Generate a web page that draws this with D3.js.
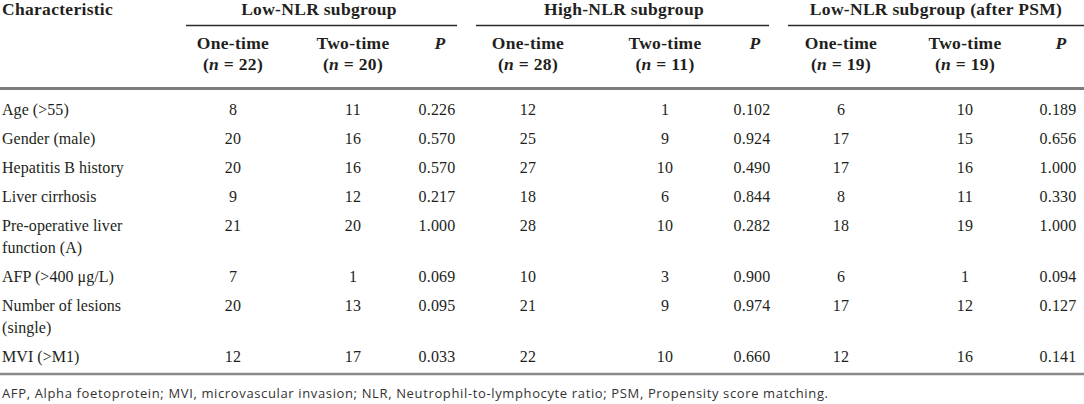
<!DOCTYPE html>
<html><head><meta charset="utf-8">
<script src="https://cdn.jsdelivr.net/npm/d3@7"></script>
<style>
html,body{margin:0;padding:0;background:#fff;}
svg{display:block;}
</style></head>
<body>
<svg id="t" width="1084" height="404"></svg>
<script>
// ---- data ----
const characteristics = [["Age (>55)"],["Gender (male)"],["Hepatitis B history"],["Liver cirrhosis"],["Pre-operative liver","function (A)"],["AFP (>400 μg/L)"],["Number of lesions","(single)"],["MVI (>M1)"]];
const groups = ["Low-NLR subgroup","High-NLR subgroup","Low-NLR subgroup (after PSM)"];
const subLabels = ["One-time","Two-time"];
const groupN = [[22,20],[28,11],[19,19]];
const lowOne = [8,20,20,9,21,7,20,12];
const lowTwo = [11,16,16,12,20,1,13,17];
const lowP = ["0.226","0.570","0.570","0.217","1.000","0.069","0.095","0.033"];
const highOne = [12,25,27,18,28,10,21,22];
const highTwo = [1,9,10,6,10,3,9,10];
const highP = ["0.102","0.924","0.490","0.844","0.282","0.900","0.974","0.660"];
const psmOne = [6,17,17,8,18,6,17,12];
const psmTwo = [10,15,16,11,19,1,12,16];
const psmP = ["0.189","0.656","1.000","0.330","1.000","0.094","0.127","0.141"];
const footnote = "AFP, Alpha foetoprotein; MVI, microvascular invasion; NLR, Neutrophil-to-lymphocyte ratio; PSM, Propensity score matching.";

const series = [lowOne, lowTwo, lowP, highOne, highTwo, highP, psmOne, psmTwo, psmP];

// ---- layout ----
const svg = d3.select("#t");
const serif = "'Liberation Serif', 'Times New Roman', serif";
const ink = "#231f20";
const colX = [233, 353, 437, 528, 665, 752, 841, 965, 1058];
const groupSpan = [[186,457],[476,769],[788,1084]];
const titleX = [319, 624, 936];
const x = d3.scaleOrdinal().domain(d3.range(series.length)).range(colX);

const lineH = 22, rowPitch = 29, firstRow = 115;
const rowTops = [];
let acc = 0;
characteristics.forEach(c => { rowTops.push(acc); acc += rowPitch + lineH*(c.length-1); });
const y = d3.scaleLinear().domain([0,1]).range([firstRow, firstRow+1]);

const fs = 16, hfs = 17.5;
function head(sel){ return sel.attr("font-family",serif).attr("font-weight","bold")
  .attr("font-size",hfs).attr("letter-spacing",0.3).attr("fill",ink); }

// header
head(svg.append("text").attr("x",2).attr("y",15)).text("Characteristic");

groups.forEach((g,i)=>{
  const [a,b] = groupSpan[i];
  head(svg.append("text").attr("x",titleX[i]).attr("y",15).attr("text-anchor","middle")).text(g);
  svg.append("line").attr("x1",a).attr("x2",b).attr("y1",25.5).attr("y2",25.5)
    .attr("stroke","#2a2a2a").attr("stroke-width",1.4);
  subLabels.forEach((lab,j)=>{
    const cx = x(i*3+j);
    head(svg.append("text").attr("x",cx).attr("y",48.5).attr("text-anchor","middle")).text(lab);
    const t = head(svg.append("text").attr("x",cx).attr("y",70).attr("text-anchor","middle"));
    t.append("tspan").text("(");
    t.append("tspan").attr("font-style","italic").text("n");
    t.append("tspan").text(" = " + groupN[i][j] + ")");
  });
  head(svg.append("text").attr("x",x(i*3+2)+3).attr("y",48.5).attr("text-anchor","middle"))
    .attr("font-style","italic").text("P");
});

// header rule
svg.append("line").attr("x1",0).attr("x2",1084).attr("y1",88.5).attr("y2",88.5).attr("stroke","#7d7d7d").attr("stroke-width",3);

// rows
const rows = svg.append("g").selectAll("g").data(characteristics).join("g")
  .attr("transform",(d,i)=>`translate(0,${y(rowTops[i])})`);
rows.each(function(d,i){
  const g = d3.select(this);
  d.forEach((ln,k)=>{
    g.append("text").attr("x",2).attr("y",k*lineH).attr("font-family",serif)
      .attr("font-size",fs).attr("letter-spacing",0.05).attr("fill",ink).text(ln);
  });
  series.forEach((s,j)=>{
    g.append("text").attr("x",x(j)).attr("y",0).attr("text-anchor","middle").attr("font-family",serif)
      .attr("font-size",fs).attr("letter-spacing",0.2).attr("fill",ink).text(s[i]);
  });
});

// bottom rule
svg.append("line").attr("x1",0).attr("x2",1084).attr("y1",374).attr("y2",374).attr("stroke","#8a8a8a").attr("stroke-width",2.5);

// footnote
svg.append("text").attr("x",2).attr("y",398).attr("font-family","'Open Sans', 'DejaVu Sans', sans-serif")
  .attr("font-size",13).attr("fill","#333").attr("textLength",826).attr("lengthAdjust","spacing").text(footnote);
</script>
</body></html>
